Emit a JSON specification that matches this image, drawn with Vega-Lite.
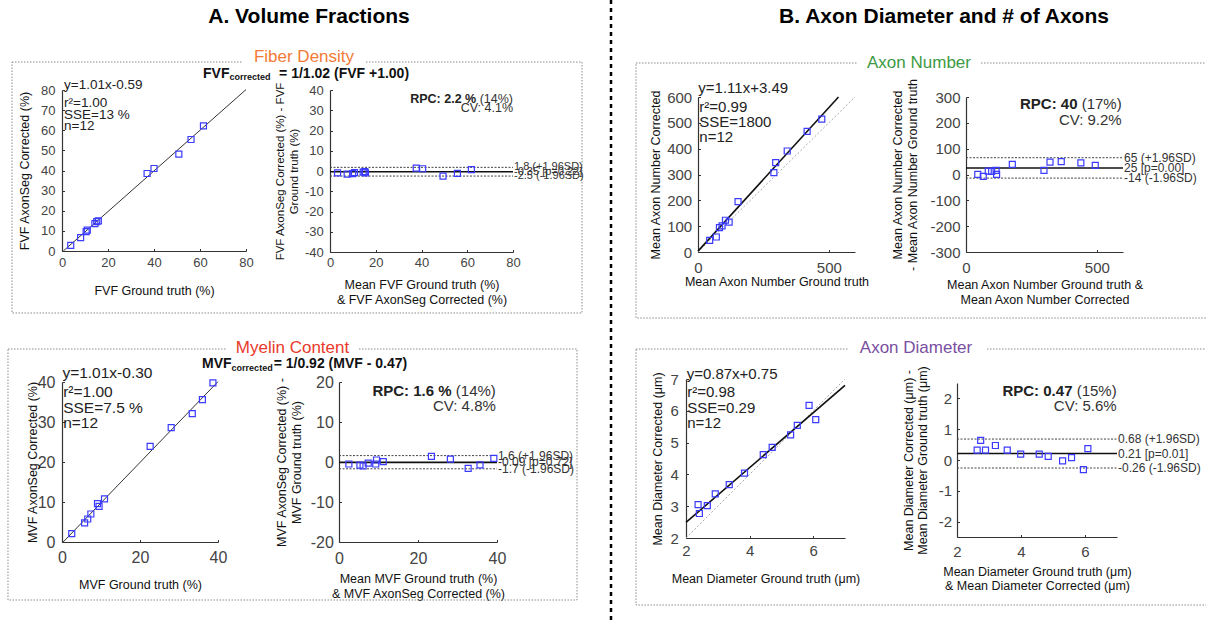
{
"$schema": "https://vega.github.io/schema/vega-lite/v6.json",
"width": 1206, "height": 621, "padding": 0, "autosize": "none",
"background": "white",
"config": {
  "view": {"stroke": null},
  "font": "Liberation Sans",
  "axis": {"grid": false, "domainColor": "#333", "domainWidth": 1.2, "tickColor": "#333", "tickSize": -2.5, "labelColor": "#444", "labelFlush": false, "labelOverlap": false, "labelBound": false, "titleFontWeight": "normal", "titleFontSize": 12.5, "titleColor": "#111", "titleLineHeight": 14.5},
  "text": {"font": "Liberation Sans"}
},
"datasets": {
  "fvf": [{"gt":3.8,"corr":2.8},{"gt":8.1,"corr":6.6},{"gt":10.5,"corr":9.6},{"gt":11,"corr":10.4},{"gt":14.3,"corr":13.6},{"gt":15.1,"corr":14.6},{"gt":15.8,"corr":15.0},{"gt":37,"corr":38.5},{"gt":40,"corr":41},{"gt":50.8,"corr":48.1},{"gt":56.1,"corr":55.4},{"gt":61.5,"corr":62.2}],
  "fvf_fit": [{"gt":0.58,"corr":0},{"gt":80,"corr":80.2}],
  "fvf_ba": [{"mean":3.3,"diff":-0.9},{"mean":7.5,"diff":-1.5},{"mean":9.9,"diff":-1.3},{"mean":10.7,"diff":-0.8},{"mean":14.5,"diff":-0.6},{"mean":15.2,"diff":-0.3},{"mean":15.5,"diff":-0.9},{"mean":37.7,"diff":1.4},{"mean":40.5,"diff":1.1},{"mean":49.4,"diff":-2.5},{"mean":55.7,"diff":-1.2},{"mean":61.8,"diff":0.7}],
  "fvf_lim": [{"y":1.8,"label":"1.8 (+1.96SD)","kind":"sd"},{"y":-0.35,"label":"-0.35 [p=0.22]","kind":"mean"},{"y":-2.5,"label":"-2.5 (-1.96SD)","kind":"sd"}],
  "mvf": [{"gt":2.5,"corr":2.1},{"gt":5.8,"corr":4.8},{"gt":6.6,"corr":5.75},{"gt":7.4,"corr":7.0},{"gt":9.1,"corr":9.6},{"gt":9.5,"corr":8.9},{"gt":10.9,"corr":10.8},{"gt":22.6,"corr":23.9},{"gt":28.0,"corr":28.6},{"gt":33.4,"corr":32.1},{"gt":36.0,"corr":35.6},{"gt":38.7,"corr":39.8}],
  "mvf_fit": [{"gt":0.3,"corr":0},{"gt":40,"corr":40.1}],
  "mvf_ba": [{"mean":2.5,"diff":-0.5},{"mean":5.3,"diff":-0.8},{"mean":6.1,"diff":-1.0},{"mean":7.4,"diff":-0.3},{"mean":9.3,"diff":-0.5},{"mean":9.5,"diff":0.5},{"mean":11.2,"diff":0.1},{"mean":23.4,"diff":1.4},{"mean":28.2,"diff":0.7},{"mean":32.7,"diff":-1.6},{"mean":35.7,"diff":-0.7},{"mean":39.2,"diff":0.9}],
  "mvf_lim": [{"y":1.6,"label":"1.6 (+1.96SD)","kind":"sd"},{"y":-0.09,"label":"-0.09 [p=0.72]","kind":"mean"},{"y":-1.7,"label":"-1.7 (-1.96SD)","kind":"sd"}],
  "num": [{"gt":44.6,"corr":45},{"gt":70,"corr":58},{"gt":82,"corr":94},{"gt":92,"corr":101},{"gt":105,"corr":123},{"gt":119,"corr":116},{"gt":153,"corr":195},{"gt":290,"corr":307},{"gt":297,"corr":346},{"gt":341,"corr":391},{"gt":417,"corr":467},{"gt":473,"corr":514}],
  "num_fit": [{"gt":0,"corr":3.5},{"gt":537,"corr":600}],
  "num_id": [{"gt":0,"corr":0},{"gt":600,"corr":600}],
  "num_ba": [{"mean":45,"diff":0.7},{"mean":66,"diff":-7},{"mean":85,"diff":13},{"mean":98,"diff":12},{"mean":115,"diff":16},{"mean":117,"diff":0.7},{"mean":177,"diff":39},{"mean":298,"diff":16},{"mean":321,"diff":48},{"mean":364,"diff":50},{"mean":439,"diff":45},{"mean":494,"diff":35}],
  "num_lim": [{"y":65,"label":"65 (+1.96SD)","kind":"sd"},{"y":25,"label":"25 [p=0.00]","kind":"mean"},{"y":-14,"label":"-14 (-1.96SD)","kind":"sd"}],
  "dia": [{"gt":2.38,"corr":3.05},{"gt":2.42,"corr":2.77},{"gt":2.67,"corr":3.02},{"gt":2.92,"corr":3.39},{"gt":3.36,"corr":3.68},{"gt":3.84,"corr":4.04},{"gt":4.43,"corr":4.62},{"gt":4.71,"corr":4.85},{"gt":5.29,"corr":5.24},{"gt":5.50,"corr":5.54},{"gt":5.87,"corr":6.17},{"gt":6.08,"corr":5.72}],
  "dia_fit": [{"gt":2,"corr":2.49},{"gt":7,"corr":6.8}],
  "dia_id": [{"gt":2,"corr":2},{"gt":7,"corr":7}],
  "dia_ba": [{"mean":2.63,"diff":0.32},{"mean":2.74,"diff":0.64},{"mean":2.89,"diff":0.32},{"mean":3.20,"diff":0.47},{"mean":3.57,"diff":0.32},{"mean":3.99,"diff":0.19},{"mean":4.57,"diff":0.19},{"mean":4.85,"diff":0.12},{"mean":5.30,"diff":-0.03},{"mean":5.58,"diff":0.08},{"mean":5.95,"diff":-0.31},{"mean":6.09,"diff":0.37}],
  "dia_lim": [{"y":0.68,"label":"0.68 (+1.96SD)","kind":"sd"},{"y":0.21,"label":"0.21 [p=0.01]","kind":"mean"},{"y":-0.26,"label":"-0.26 (-1.96SD)","kind":"sd"}]
},
"resolve": {"scale": {"x": "independent", "y": "independent"}, "axis": {"x": "independent", "y": "independent"}},
"layer": [
{
 "layer": [
  {"data":{"values":[{}]},"mark":{"type":"rect","filled":false,"stroke":"#8a8a8a","strokeWidth":1,"strokeDash":[1.5,1.5]},
   "encoding":{"x":{"datum":-21.74,"type":"quantitative"},"x2":{"datum":226.1},"y":{"datum":93.9,"type":"quantitative"},"y2":{"datum":-30.8}}},
  {"data":{"values":[{}]},"mark":{"type":"rect","fill":"white","stroke":null},
   "encoding":{"x":{"datum":78.7,"type":"quantitative"},"x2":{"datum":131.7},"y":{"datum":95.4,"type":"quantitative"},"y2":{"datum":92.4}}},
  {"data":{"values":[{}]},"mark":{"type":"rule","color":"#000","strokeWidth":2.5,"strokeDash":[4,4]},
   "encoding":{"x":{"datum":238.7,"type":"quantitative"}}},
  {"data":{"values":[{}]},"mark":{"type":"text","text":"A. Volume Fractions","fontSize":21,"fontWeight":"bold","align":"center","baseline":"middle","color":"#000"},
   "encoding":{"x":{"datum":107.4,"type":"quantitative"},"y":{"datum":116.2,"type":"quantitative"}}},
  {"data":{"values":[{}]},"mark":{"type":"text","text":"Fiber Density","fontSize":17,"align":"center","baseline":"middle","color":"#f27a36"},
   "encoding":{"x":{"datum":105.2,"type":"quantitative"},"y":{"datum":96.15,"type":"quantitative"}}},
  {"data":{"values":[{}]},"mark":{"type":"text","text":"FVF","fontSize":14,"fontWeight":"bold","align":"left","baseline":"middle","color":"#111"},
   "encoding":{"x":{"datum":61.3,"type":"quantitative"},"y":{"datum":88.05,"type":"quantitative"}}},
  {"data":{"values":[{}]},"mark":{"type":"text","text":"corrected","fontSize":9,"fontWeight":"bold","align":"left","baseline":"middle","dx":26.5,"dy":3.5,"color":"#111"},
   "encoding":{"x":{"datum":61.3,"type":"quantitative"},"y":{"datum":88.05,"type":"quantitative"}}},
  {"data":{"values":[{}]},"mark":{"type":"text","text":"= 1/1.02 (FVF +1.00)","fontSize":14,"fontWeight":"bold","align":"right","baseline":"middle","color":"#111"},
   "encoding":{"x":{"datum":150.9,"type":"quantitative"},"y":{"datum":88.05,"type":"quantitative"}}},
  {"data":{"name":"fvf_fit"},"mark":{"type":"line","color":"#333","strokeWidth":1},
   "encoding":{"x":{"field":"gt","type":"quantitative"},"y":{"field":"corr","type":"quantitative"}}},
  {"data":{"name":"fvf"},"mark":{"type":"point","shape":"square","filled":false,"size":36,"color":"#3b3bff","strokeWidth":1.2,"opacity":1},
   "encoding":{
    "x":{"field":"gt","type":"quantitative","scale":{"domain":[0,80],"range":[62,246],"nice":false,"zero":false},
         "axis":{"orient":"bottom","offset":-370,"values":[0,20,40,60,80],"labelExpr":"'' + datum.value","labelFontSize":13,"labelPadding":7.5,"titlePadding":15.6,"title":"FVF Ground truth (%)"}},
    "y":{"field":"corr","type":"quantitative","scale":{"domain":[0,80],"range":[251,90],"nice":false,"zero":false},
         "axis":{"orient":"left","offset":-62,"values":[0,10,20,30,40,50,60,70,80],"labelExpr":"'' + datum.value","labelFontSize":13,"labelPadding":9.5,"titlePadding":9.5,"title":"FVF AxonSeg Corrected (%)"}}}},
  {"data":{"values":[{}]},"mark":{"type":"text","text":"y=1.01x-0.59","fontSize":13.5,"align":"left","baseline":"middle","color":"#222"},
   "encoding":{"x":{"datum":0.87,"type":"quantitative"},"y":{"datum":82.5,"type":"quantitative"}}},
  {"data":{"values":[{}]},"mark":{"type":"text","text":["r²=1.00","SSE=13 %","n=12"],"lineHeight":11.7,"fontSize":13.5,"align":"left","baseline":"top","color":"#222"},
   "encoding":{"x":{"datum":0.87,"type":"quantitative"},"y":{"datum":77.07,"type":"quantitative"}}}
 ]
},
{
 "layer": [
  {"data":{"name":"fvf_lim"},"transform":[{"filter":"datum.kind == 'sd'"}],"mark":{"type":"rule","color":"#444","strokeWidth":1,"strokeDash":[2,1.5]},
   "encoding":{"x":{"datum":0,"type":"quantitative"},"x2":{"datum":80},"y":{"field":"y","type":"quantitative"}}},
  {"data":{"name":"fvf_lim"},"transform":[{"filter":"datum.kind == 'mean'"}],"mark":{"type":"rule","color":"#111","strokeWidth":1.6},
   "encoding":{"x":{"datum":0,"type":"quantitative"},"x2":{"datum":80},"y":{"field":"y","type":"quantitative"}}},
  {"data":{"name":"fvf_lim"},"mark":{"type":"text","align":"left","baseline":"middle","dx":1,"fontSize":11,"color":"#333"},
   "encoding":{"x":{"datum":80,"type":"quantitative"},"y":{"field":"y","type":"quantitative"},"text":{"field":"label"}}},
  {"data":{"name":"fvf_ba"},"mark":{"type":"point","shape":"square","filled":false,"size":36,"color":"#3b3bff","strokeWidth":1.2,"opacity":1},
   "encoding":{
    "x":{"field":"mean","type":"quantitative","scale":{"domain":[0,80],"range":[330,513],"nice":false,"zero":false},
         "axis":{"orient":"bottom","offset":-369,"values":[0,20,40,60,80],"labelExpr":"'' + datum.value","labelFontSize":13,"labelPadding":6.6,"titlePadding":9.8,"title":["Mean FVF Ground truth (%)","& FVF AxonSeg Corrected (%)"]}},
    "y":{"field":"diff","type":"quantitative","scale":{"domain":[-40,40],"range":[252,90],"nice":false,"zero":false},
         "axis":{"orient":"left","offset":-330,"values":[-40,-30,-20,-10,0,10,20,30,40],"labelExpr":"'' + datum.value","labelFontSize":13,"labelPadding":9.2,"titlePadding":5.2,"titleFontSize":11.5,"titleLineHeight":13.5,"title":["FVF AxonSeg Corrected (%) -   FVF","Ground truth (%)"]}}}},
  {"data":{"values":[{}]},"mark":{"type":"text","text":"RPC: 2.2 %","fontSize":12.5,"fontWeight":"bold","align":"right","baseline":"middle","dx":-36.8,"color":"#222"},
   "encoding":{"x":{"datum":80,"type":"quantitative"},"y":{"datum":35.46,"type":"quantitative"}}},
  {"data":{"values":[{}]},"mark":{"type":"text","text":"(14%)","fontSize":12.5,"align":"right","baseline":"middle","color":"#333"},
   "encoding":{"x":{"datum":80,"type":"quantitative"},"y":{"datum":35.46,"type":"quantitative"}}},
  {"data":{"values":[{}]},"mark":{"type":"text","text":"CV: 4.1%","fontSize":12.5,"align":"right","baseline":"middle","color":"#333"},
   "encoding":{"x":{"datum":80,"type":"quantitative"},"y":{"datum":31.0,"type":"quantitative"}}}
 ]
},
{
 "layer": [
  {"data":{"values":[{}]},"mark":{"type":"rect","filled":false,"stroke":"#8a8a8a","strokeWidth":1,"strokeDash":[1.5,1.5]},
   "encoding":{"x":{"datum":-13.85,"type":"quantitative"},"x2":{"datum":132.05},"y":{"datum":48.25,"type":"quantitative"},"y2":{"datum":-14.5}}},
  {"data":{"values":[{}]},"mark":{"type":"rect","fill":"white","stroke":null},
   "encoding":{"x":{"datum":42.3,"type":"quantitative"},"x2":{"datum":75.9},"y":{"datum":49,"type":"quantitative"},"y2":{"datum":47.5}}},
  {"data":{"values":[{}]},"mark":{"type":"text","text":"Myelin Content","fontSize":17,"align":"center","baseline":"middle","color":"#e8392b"},
   "encoding":{"x":{"datum":59.1,"type":"quantitative"},"y":{"datum":48.6,"type":"quantitative"}}},
  {"data":{"values":[{}]},"mark":{"type":"text","text":"MVF","fontSize":14,"fontWeight":"bold","align":"left","baseline":"middle","color":"#111"},
   "encoding":{"x":{"datum":35.9,"type":"quantitative"},"y":{"datum":44.5,"type":"quantitative"}}},
  {"data":{"values":[{}]},"mark":{"type":"text","text":"corrected","fontSize":9,"fontWeight":"bold","align":"left","baseline":"middle","dx":29.6,"dy":3.5,"color":"#111"},
   "encoding":{"x":{"datum":35.9,"type":"quantitative"},"y":{"datum":44.5,"type":"quantitative"}}},
  {"data":{"values":[{}]},"mark":{"type":"text","text":"= 1/0.92 (MVF - 0.47)","fontSize":14,"fontWeight":"bold","align":"right","baseline":"middle","color":"#111"},
   "encoding":{"x":{"datum":88.5,"type":"quantitative"},"y":{"datum":44.5,"type":"quantitative"}}},
  {"data":{"name":"mvf_fit"},"mark":{"type":"line","color":"#333","strokeWidth":1},
   "encoding":{"x":{"field":"gt","type":"quantitative"},"y":{"field":"corr","type":"quantitative"}}},
  {"data":{"name":"mvf"},"mark":{"type":"point","shape":"square","filled":false,"size":36,"color":"#3b3bff","strokeWidth":1.2,"opacity":1},
   "encoding":{
    "x":{"field":"gt","type":"quantitative","scale":{"domain":[0,40],"range":[62,218],"nice":false,"zero":false},
         "axis":{"orient":"bottom","offset":-79,"values":[0,20,40],"labelExpr":"'' + datum.value","labelFontSize":16,"labelPadding":10.3,"titlePadding":12.8,"title":"MVF Ground truth (%)"}},
    "y":{"field":"corr","type":"quantitative","scale":{"domain":[0,40],"range":[542,382],"nice":false,"zero":false},
         "axis":{"orient":"left","offset":-62,"values":[0,10,20,30,40],"labelExpr":"'' + datum.value","labelFontSize":16,"labelPadding":9.5,"titlePadding":-2,"title":"MVF AxonSeg Corrected (%)"}}}},
  {"data":{"values":[{}]},"mark":{"type":"text","text":"y=1.01x-0.30","fontSize":15.5,"align":"left","baseline":"middle","color":"#222"},
   "encoding":{"x":{"datum":0.1,"type":"quantitative"},"y":{"datum":42.35,"type":"quantitative"}}},
  {"data":{"values":[{}]},"mark":{"type":"text","text":["r²=1.00","SSE=7.5 %","n=12"],"lineHeight":15.5,"fontSize":15.5,"align":"left","baseline":"top","color":"#222"},
   "encoding":{"x":{"datum":0.3,"type":"quantitative"},"y":{"datum":39.25,"type":"quantitative"}}}
 ]
},
{
 "layer": [
  {"data":{"name":"mvf_lim"},"transform":[{"filter":"datum.kind == 'sd'"}],"mark":{"type":"rule","color":"#444","strokeWidth":1,"strokeDash":[2,1.5]},
   "encoding":{"x":{"datum":0,"type":"quantitative"},"x2":{"datum":40},"y":{"field":"y","type":"quantitative"}}},
  {"data":{"name":"mvf_lim"},"transform":[{"filter":"datum.kind == 'mean'"}],"mark":{"type":"rule","color":"#111","strokeWidth":1.6},
   "encoding":{"x":{"datum":0,"type":"quantitative"},"x2":{"datum":40},"y":{"field":"y","type":"quantitative"}}},
  {"data":{"name":"mvf_lim"},"mark":{"type":"text","align":"left","baseline":"middle","dx":1,"fontSize":12,"color":"#333"},
   "encoding":{"x":{"datum":40,"type":"quantitative"},"y":{"field":"y","type":"quantitative"},"text":{"field":"label"}}},
  {"data":{"name":"mvf_ba"},"mark":{"type":"point","shape":"square","filled":false,"size":36,"color":"#3b3bff","strokeWidth":1.2,"opacity":1},
   "encoding":{
    "x":{"field":"mean","type":"quantitative","scale":{"domain":[0,40],"range":[339,497],"nice":false,"zero":false},
         "axis":{"orient":"bottom","offset":-79,"values":[0,20,40],"labelExpr":"'' + datum.value","labelFontSize":16,"labelPadding":11.3,"titlePadding":6.1,"title":["Mean MVF Ground truth (%)","& MVF AxonSeg Corrected (%)"]}},
    "y":{"field":"diff","type":"quantitative","scale":{"domain":[-20,20],"range":[542,382],"nice":false,"zero":false},
         "axis":{"orient":"left","offset":-339,"values":[-20,-10,0,10,20],"labelExpr":"'' + datum.value","labelFontSize":16,"labelPadding":8.2,"titlePadding":6.9,"title":["MVF AxonSeg Corrected (%) -","MVF Ground truth (%)"]}}}},
  {"data":{"values":[{}]},"mark":{"type":"text","text":"RPC: 1.6 %","fontSize":15,"fontWeight":"bold","align":"right","baseline":"middle","dx":-44.2,"color":"#222"},
   "encoding":{"x":{"datum":39.7,"type":"quantitative"},"y":{"datum":17.78,"type":"quantitative"}}},
  {"data":{"values":[{}]},"mark":{"type":"text","text":"(14%)","fontSize":15,"align":"right","baseline":"middle","color":"#333"},
   "encoding":{"x":{"datum":39.7,"type":"quantitative"},"y":{"datum":17.78,"type":"quantitative"}}},
  {"data":{"values":[{}]},"mark":{"type":"text","text":"CV: 4.8%","fontSize":15,"align":"right","baseline":"middle","color":"#333"},
   "encoding":{"x":{"datum":39.7,"type":"quantitative"},"y":{"datum":14.03,"type":"quantitative"}}}
 ]
},
{
 "layer": [
  {"data":{"values":[{}]},"mark":{"type":"rect","filled":false,"stroke":"#8a8a8a","strokeWidth":1,"strokeDash":[1.5,1.5]},
   "encoding":{"x":{"datum":-236.9,"type":"quantitative"},"x2":{"datum":1964},"y":{"datum":731.6,"type":"quantitative"},"y2":{"datum":-255.5}}},
  {"data":{"values":[{}]},"mark":{"type":"rect","fill":"white","stroke":null},
   "encoding":{"x":{"datum":611.5,"type":"quantitative"},"x2":{"datum":1077.7},"y":{"datum":743.2,"type":"quantitative"},"y2":{"datum":720}}},
  {"data":{"values":[{}]},"mark":{"type":"text","text":"B. Axon Diameter and # of Axons","fontSize":21,"fontWeight":"bold","align":"center","baseline":"middle","color":"#000"},
   "encoding":{"x":{"datum":940.1,"type":"quantitative"},"y":{"datum":908.9,"type":"quantitative"}}},
  {"data":{"values":[{}]},"mark":{"type":"text","text":"Axon Number","fontSize":17,"align":"center","baseline":"middle","color":"#3c9a45"},
   "encoding":{"x":{"datum":844.6,"type":"quantitative"},"y":{"datum":732.8,"type":"quantitative"}}},
  {"data":{"name":"num_id"},"mark":{"type":"line","color":"#aaaaaa","strokeWidth":1,"strokeDash":[2,2]},
   "encoding":{"x":{"field":"gt","type":"quantitative"},"y":{"field":"corr","type":"quantitative"}}},
  {"data":{"name":"num_fit"},"mark":{"type":"line","color":"#111","strokeWidth":1.6},
   "encoding":{"x":{"field":"gt","type":"quantitative"},"y":{"field":"corr","type":"quantitative"}}},
  {"data":{"name":"num"},"mark":{"type":"point","shape":"square","filled":false,"size":36,"color":"#3b3bff","strokeWidth":1.2,"opacity":1},
   "encoding":{
    "x":{"field":"gt","type":"quantitative","scale":{"domain":[0,600],"range":[698,855],"nice":false,"zero":false},
         "axis":{"orient":"bottom","offset":-369,"values":[0,500],"labelExpr":"'' + datum.value","labelFontSize":15,"labelPadding":10.7,"titlePadding":0.4,"title":"Mean Axon Number Ground truth"}},
    "y":{"field":"corr","type":"quantitative","scale":{"domain":[0,600],"range":[252,97],"nice":false,"zero":false},
         "axis":{"orient":"left","offset":-698,"values":[0,100,200,300,400,500,600],"labelExpr":"'' + datum.value","labelFontSize":15,"labelPadding":8.8,"titlePadding":4.1,"title":"Mean Axon Number Corrected"}}}},
  {"data":{"values":[{}]},"mark":{"type":"text","text":"y=1.11x+3.49","fontSize":15,"align":"left","baseline":"middle","color":"#222"},
   "encoding":{"x":{"datum":1.1,"type":"quantitative"},"y":{"datum":636.4,"type":"quantitative"}}},
  {"data":{"values":[{}]},"mark":{"type":"text","text":["r²=0.99","SSE=1800","n=12"],"lineHeight":15,"fontSize":15,"align":"left","baseline":"top","color":"#222"},
   "encoding":{"x":{"datum":5,"type":"quantitative"},"y":{"datum":587.4,"type":"quantitative"}}}
 ]
},
{
 "layer": [
  {"data":{"name":"num_lim"},"transform":[{"filter":"datum.kind == 'sd'"}],"mark":{"type":"rule","color":"#444","strokeWidth":1,"strokeDash":[2,1.5]},
   "encoding":{"x":{"datum":0,"type":"quantitative"},"x2":{"datum":600},"y":{"field":"y","type":"quantitative"}}},
  {"data":{"name":"num_lim"},"transform":[{"filter":"datum.kind == 'mean'"}],"mark":{"type":"rule","color":"#111","strokeWidth":1.6},
   "encoding":{"x":{"datum":0,"type":"quantitative"},"x2":{"datum":600},"y":{"field":"y","type":"quantitative"}}},
  {"data":{"name":"num_lim"},"mark":{"type":"text","align":"left","baseline":"middle","dx":1,"fontSize":12,"color":"#333"},
   "encoding":{"x":{"datum":600,"type":"quantitative"},"y":{"field":"y","type":"quantitative"},"text":{"field":"label"}}},
  {"data":{"name":"num_ba"},"mark":{"type":"point","shape":"square","filled":false,"size":36,"color":"#3b3bff","strokeWidth":1.2,"opacity":1},
   "encoding":{
    "x":{"field":"mean","type":"quantitative","scale":{"domain":[0,600],"range":[966,1123],"nice":false,"zero":false},
         "axis":{"orient":"bottom","offset":-369,"values":[0,500],"labelExpr":"'' + datum.value","labelFontSize":15,"labelPadding":10.7,"titlePadding":3.7,"title":["Mean Axon Number Ground truth &","Mean Axon Number Corrected"]}},
    "y":{"field":"diff","type":"quantitative","scale":{"domain":[-300,300],"range":[252,97],"nice":false,"zero":false},
         "axis":{"orient":"left","offset":-966,"values":[-300,-200,-100,0,100,200,300],"labelExpr":"'' + datum.value","labelFontSize":15,"labelPadding":8.5,"titlePadding":10.7,"title":["Mean Axon Number Corrected","- Mean Axon Number Ground truth"]}}}},
  {"data":{"values":[{}]},"mark":{"type":"text","text":"RPC: 40","fontSize":15,"fontWeight":"bold","align":"right","baseline":"middle","dx":-44.2,"color":"#222"},
   "encoding":{"x":{"datum":595,"type":"quantitative"},"y":{"datum":272.1,"type":"quantitative"}}},
  {"data":{"values":[{}]},"mark":{"type":"text","text":"(17%)","fontSize":15,"align":"right","baseline":"middle","color":"#333"},
   "encoding":{"x":{"datum":595,"type":"quantitative"},"y":{"datum":272.1,"type":"quantitative"}}},
  {"data":{"values":[{}]},"mark":{"type":"text","text":"CV: 9.2%","fontSize":15,"align":"right","baseline":"middle","color":"#333"},
   "encoding":{"x":{"datum":595,"type":"quantitative"},"y":{"datum":211.4,"type":"quantitative"}}}
 ]
},
{
 "layer": [
  {"data":{"values":[{}]},"mark":{"type":"rect","filled":false,"stroke":"#8a8a8a","strokeWidth":1,"strokeDash":[1.5,1.5]},
   "encoding":{"x":{"datum":0.428,"type":"quantitative"},"x2":{"datum":18.54},"y":{"datum":7.943,"type":"quantitative"},"y2":{"datum":-0.107}}},
  {"data":{"values":[{}]},"mark":{"type":"rect","fill":"white","stroke":null},
   "encoding":{"x":{"datum":7.094,"type":"quantitative"},"x2":{"datum":11.465},"y":{"datum":8.069,"type":"quantitative"},"y2":{"datum":7.881}}},
  {"data":{"values":[{}]},"mark":{"type":"text","text":"Axon Diameter","fontSize":17,"align":"center","baseline":"middle","color":"#7a4f9f"},
   "encoding":{"x":{"datum":9.233,"type":"quantitative"},"y":{"datum":7.975,"type":"quantitative"}}},
  {"data":{"name":"dia_id"},"mark":{"type":"line","color":"#aaaaaa","strokeWidth":1,"strokeDash":[2,2]},
   "encoding":{"x":{"field":"gt","type":"quantitative"},"y":{"field":"corr","type":"quantitative"}}},
  {"data":{"name":"dia_fit"},"mark":{"type":"line","color":"#111","strokeWidth":1.6},
   "encoding":{"x":{"field":"gt","type":"quantitative"},"y":{"field":"corr","type":"quantitative"}}},
  {"data":{"name":"dia"},"mark":{"type":"point","shape":"square","filled":false,"size":36,"color":"#3b3bff","strokeWidth":1.2,"opacity":1},
   "encoding":{
    "x":{"field":"gt","type":"quantitative","scale":{"domain":[2,7],"range":[686,845],"nice":false,"zero":false},
         "axis":{"orient":"bottom","offset":-83,"values":[2,4,6],"labelExpr":"'' + datum.value","labelFontSize":15,"labelPadding":8,"titlePadding":14.35,"title":"Mean Diameter Ground truth (μm)"}},
    "y":{"field":"corr","type":"quantitative","scale":{"domain":[2,7],"range":[538,379],"nice":false,"zero":false},
         "axis":{"orient":"left","offset":-686,"values":[2,3,4,5,6,7],"labelExpr":"'' + datum.value","labelFontSize":15,"labelPadding":10.2,"titlePadding":5.7,"title":"Mean Diameter Corrected (μm)"}}}},
  {"data":{"values":[{}]},"mark":{"type":"text","text":"y=0.87x+0.75","fontSize":15,"align":"left","baseline":"middle","color":"#222"},
   "encoding":{"x":{"datum":2.02,"type":"quantitative"},"y":{"datum":7.17,"type":"quantitative"}}},
  {"data":{"values":[{}]},"mark":{"type":"text","text":["r²=0.98","SSE=0.29","n=12"],"lineHeight":15.5,"fontSize":15,"align":"left","baseline":"top","color":"#222"},
   "encoding":{"x":{"datum":2.04,"type":"quantitative"},"y":{"datum":6.80,"type":"quantitative"}}}
 ]
},
{
 "layer": [
  {"data":{"name":"dia_lim"},"transform":[{"filter":"datum.kind == 'sd'"}],"mark":{"type":"rule","color":"#444","strokeWidth":1,"strokeDash":[2,1.5]},
   "encoding":{"x":{"datum":2,"type":"quantitative"},"x2":{"datum":7},"y":{"field":"y","type":"quantitative"}}},
  {"data":{"name":"dia_lim"},"transform":[{"filter":"datum.kind == 'mean'"}],"mark":{"type":"rule","color":"#111","strokeWidth":1.6},
   "encoding":{"x":{"datum":2,"type":"quantitative"},"x2":{"datum":7},"y":{"field":"y","type":"quantitative"}}},
  {"data":{"name":"dia_lim"},"mark":{"type":"text","align":"left","baseline":"middle","dx":1,"fontSize":12,"color":"#333"},
   "encoding":{"x":{"datum":7,"type":"quantitative"},"y":{"field":"y","type":"quantitative"},"text":{"field":"label"}}},
  {"data":{"name":"dia_ba"},"mark":{"type":"point","shape":"square","filled":false,"size":36,"color":"#3b3bff","strokeWidth":1.2,"opacity":1},
   "encoding":{
    "x":{"field":"mean","type":"quantitative","scale":{"domain":[2,7],"range":[957,1117],"nice":false,"zero":false},
         "axis":{"orient":"bottom","offset":-84,"values":[2,4,6],"labelExpr":"'' + datum.value","labelFontSize":15,"labelPadding":9.75,"titlePadding":6,"title":["Mean Diameter Ground truth (μm)","& Mean Diameter Corrected (μm)"]}},
    "y":{"field":"diff","type":"quantitative","scale":{"domain":[-2.5,2.5],"range":[537,383],"nice":false,"zero":false},
         "axis":{"orient":"left","offset":-957,"values":[-2,-1,0,1,2],"labelExpr":"'' + datum.value","labelFontSize":15,"labelPadding":7.8,"titlePadding":8.4,"title":["Mean Diameter Corrected (μm) -","Mean Diameter Ground truth (μm)"]}}}},
  {"data":{"values":[{}]},"mark":{"type":"text","text":"RPC: 0.47","fontSize":15,"fontWeight":"bold","align":"right","baseline":"middle","dx":-44.2,"color":"#222"},
   "encoding":{"x":{"datum":6.99,"type":"quantitative"},"y":{"datum":2.24,"type":"quantitative"}}},
  {"data":{"values":[{}]},"mark":{"type":"text","text":"(15%)","fontSize":15,"align":"right","baseline":"middle","color":"#333"},
   "encoding":{"x":{"datum":6.99,"type":"quantitative"},"y":{"datum":2.24,"type":"quantitative"}}},
  {"data":{"values":[{}]},"mark":{"type":"text","text":"CV: 5.6%","fontSize":15,"align":"right","baseline":"middle","color":"#333"},
   "encoding":{"x":{"datum":6.99,"type":"quantitative"},"y":{"datum":1.756,"type":"quantitative"}}}
 ]
}
]
}
